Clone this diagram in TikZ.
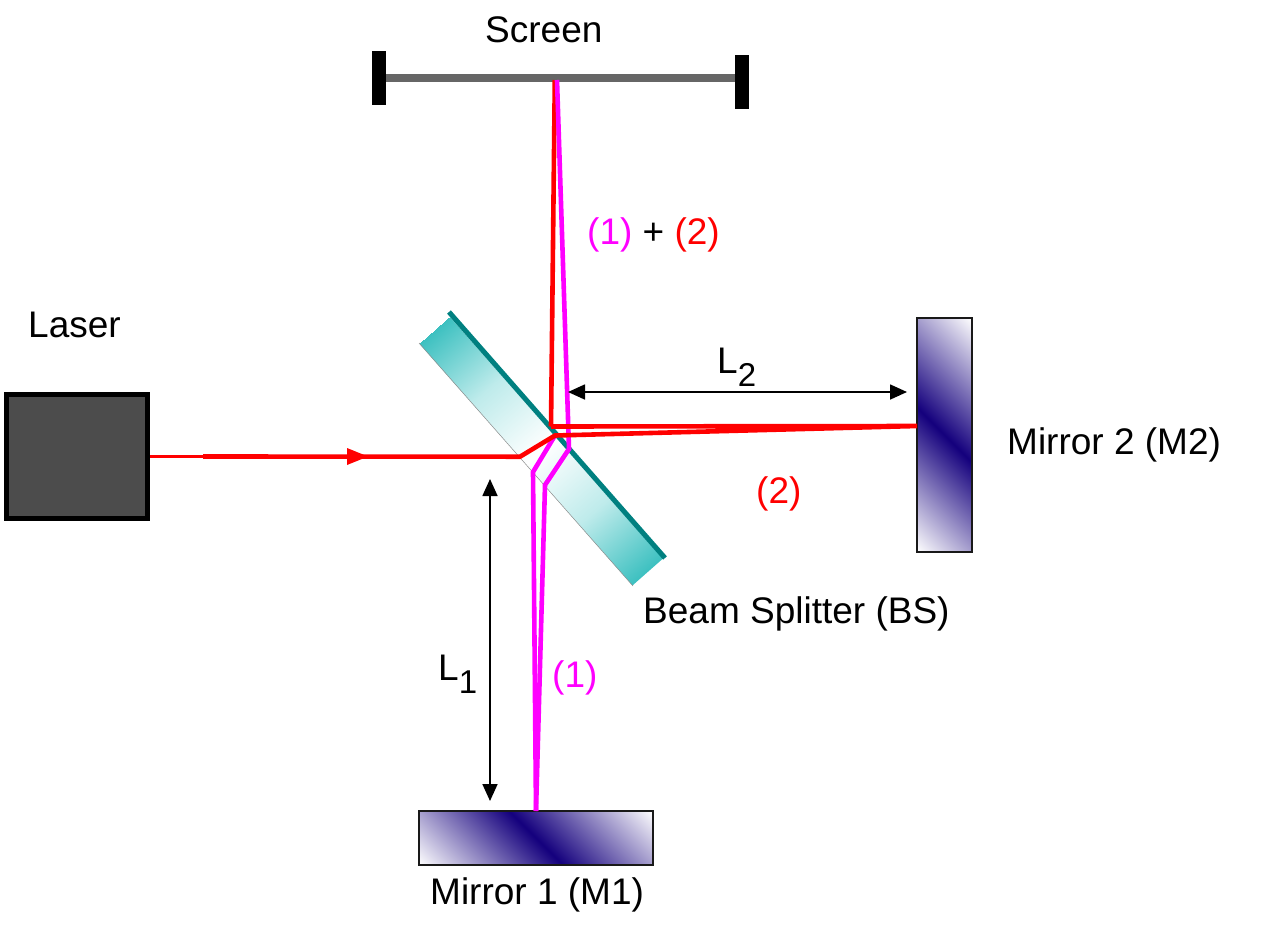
\documentclass[tikz,border=0pt]{standalone}
\usepackage{fontspec}
\setmainfont{Liberation Sans}
\usetikzlibrary{arrows.meta}
\definecolor{navy}{RGB}{20,0,125}
\definecolor{glass}{RGB}{60,192,192}
\definecolor{glassmid}{RGB}{190,235,235}
\definecolor{coat}{RGB}{0,128,128}
\definecolor{magenta}{RGB}{255,0,255}
\pgfdeclarehorizontalshading{mirrorshade}{400pt}{color(0pt)=(white); color(102pt)=(navy); color(204pt)=(white)}
\pgfdeclarehorizontalshading{glassshade}{40.5pt}{color(0pt)=(glass); color(80pt)=(glassmid); color(161pt)=(white); color(242pt)=(glassmid); color(322.7pt)=(glass)}
\tikzset{
  lbl/.style={anchor=base west,inner sep=0pt,font=\fontsize{37}{40}\selectfont},
  beam/.style={line width=4.6pt,line join=miter},
  redbeam/.style={beam,red},
  magbeam/.style={beam,magenta},
  dim/.style={line width=1.7pt,{Triangle[length=17pt,width=15pt]}-{Triangle[length=17pt,width=15pt]}},
  shadebox/.style={inner sep=0pt,outer sep=0pt},
  mirrorframe/.style={draw=black!90,line width=2pt,inner sep=0pt},
  block/.style={fill=black,inner sep=0pt,minimum width=14.5pt,minimum height=54pt},
}
\newcommand{\subs}[1]{\raisebox{-13pt}{\fontsize{33}{36}\selectfont #1}}
\begin{document}
\begin{tikzpicture}[x=1pt,y=-1pt]
\useasboundingbox (0,0) rectangle (1274,927);
% screen
\draw[line width=8pt,black!60] (386,78) -- (735,78);
\node[block] (scrL) at (379,78) {};
\node[block] (scrR) at (742,82) {};
\coordinate (scrRed) at (554.8,80);
\coordinate (scrMag) at (557,80);
% laser
\node[draw=black,line width=5.4pt,fill=black!70,inner sep=0pt,minimum width=140.6pt,minimum height=123.6pt,outer sep=2.7pt] (laser) at (77,456.5) {};
% beam splitter
\node[shadebox,rotate=-48.6] (bs) at (541,451) {\pgfuseshading{glassshade}};
\draw[black!45,line width=0.5pt] (419,343) -- (633,586);
\draw[coat,line width=5pt] (449,312) -- (665,558);
% mirrors
\begin{scope}
\clip (419,811) rectangle (653,865);
\node[shadebox,rotate=45] at (536,838) {\pgfuseshading{mirrorshade}};
\end{scope}
\node[mirrorframe,minimum width=234pt,minimum height=54pt] (m1) at (536,838) {};
\begin{scope}
\clip (917,318) rectangle (972,552);
\node[shadebox,rotate=45] at (944.5,435) {\pgfuseshading{mirrorshade}};
\end{scope}
\node[mirrorframe,minimum width=55pt,minimum height=234pt] (m2) at (944.5,435) {};
% named beam points
\coordinate (a) at (520,456.7);
\coordinate (b) at (555,435.5);
\coordinate (c) at (551,426.5);
\coordinate (m2hit) at (917,426);
\coordinate (m1hit) at (536,811);
\coordinate (p1) at (533,472);
\coordinate (p2) at (545,485);
\coordinate (p3) at (569,449);
\coordinate (ls) at (203,456.5);
\coordinate (tipA) at (368,456.5);
\coordinate (tipB) at (347,448);
\coordinate (tipC) at (347,465);
% beams
\draw[redbeam] (c) -- (scrRed);
\draw[magbeam] (m1hit) -- (p1) -- (b);
\draw[magbeam] (m1hit) -- (p2) -- (p3) -- (scrMag);
\draw[red,line width=3pt] (laser.east) -- (ls);
\draw[redbeam] (ls) -- (a) -- (b) -- (m2hit) -- (c);
\fill[red] (tipA) -- (tipB) -- (tipC) -- cycle;
% dimension arrows
\coordinate (l2a) at (568,392);
\coordinate (l2b) at (907,392);
\coordinate (l1a) at (490,479);
\coordinate (l1b) at (490,801);
\draw[dim] (l2a) -- (l2b);
\draw[dim] (l1a) -- (l1b);
% labels
\node[lbl] (t1) at (485,42) {Screen};
\node[lbl] (t2) at (28,337) {Laser};
\node[lbl] (t3) at (587,244) {\textcolor{magenta}{(1)} + \textcolor{red}{(2)}};
\node[lbl] (t4) at (1007,454) {Mirror 2 (M2)};
\node[lbl,text=red] (t5) at (756,503) {(2)};
\node[lbl] (t6) at (643,623) {Beam Splitter (BS)};
\node[lbl,text=magenta] (t7) at (552,687) {(1)};
\node[lbl] (t8) at (430,904) {Mirror 1 (M1)};
\node[lbl] (t9) at (717,373) {L\subs{2}};
\node[lbl] (t10) at (438,680) {L\subs{1}};
\end{tikzpicture}
\end{document}
